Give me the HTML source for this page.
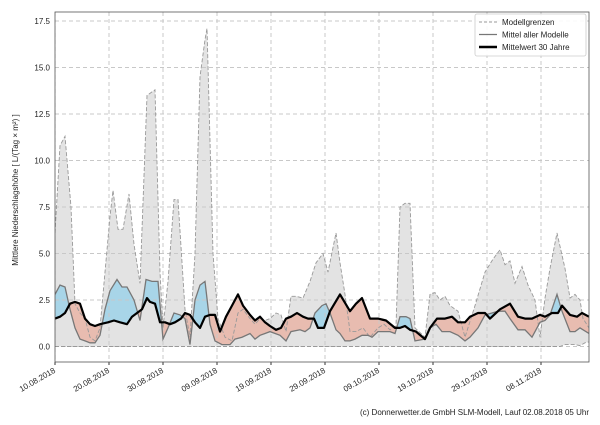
<!DOCTYPE html>
<html><head><meta charset="utf-8"><style>
body{margin:0;background:#fff}
svg{font-family:"Liberation Sans","DejaVu Sans",sans-serif}
</style></head><body>
<svg id="s" width="600" height="420" xmlns="http://www.w3.org/2000/svg"></svg>
<script>
const up=[[55,6.1],[60,10.8],[65,11.3],[71,7.5],[75,2.3],[80,1.8],[85,1.5],[90,0.5],[95,0.3],[100,1.0],[105,4],[110,7],[113,8.4],[118,6.3],[123,6.3],[129,8.2],[134,5.5],[140,3.4],[147,13.5],[155,13.8],[160,4],[163,1.0],[168,3.5],[174,7.9],[178,7.9],[185,2],[190,0.5],[195,5],[200,14.5],[205,16.5],[207,17.1],[213,5],[218,1.5],[225,0.5],[232,0.3],[238,1.8],[243,2.0],[250,1.5],[255,1.2],[260,1.5],[265,1.4],[270,1.5],[276,1.8],[281,1.7],[286,0.8],[291,2.7],[296,2.7],[303,2.6],[310,3.5],[316,4.5],[323,5.0],[328,4.0],[336,6.1],[340,4.5],[345,2.8],[350,0.8],[356,0.8],[363,1.0],[370,0.5],[378,1.0],[384,1.2],[390,0.9],[396,1.1],[400,7.5],[405,7.7],[410,7.7],[415,1.0],[425,0.5],[430,2.8],[435,2.9],[440,2.5],[445,2.7],[450,2.2],[458,1.9],[465,0.5],[475,2.2],[485,4.0],[493,4.7],[500,5.2],[505,4.4],[510,4.6],[515,3.4],[522,4.3],[528,3.3],[535,2.5],[540,0.5],[545,2.6],[550,4.2],[557,6.1],[565,4.2],[570,2.6],[575,2.8],[580,2.5],[583,1.5],[589,1.0]];
const md=[[55,2.8],[60,3.3],[65,3.2],[70,2.0],[75,1.0],[80,0.4],[85,0.3],[90,0.2],[95,0.2],[100,0.6],[105,2.0],[110,3.0],[117,3.6],[122,3.2],[127,3.2],[134,2.5],[140,1.4],[146,3.6],[152,3.5],[158,3.5],[163,0.4],[168,1.0],[174,1.8],[180,1.7],[185,1.5],[190,0.1],[195,2.5],[200,3.3],[205,3.5],[210,1.2],[215,0.3],[222,0.1],[230,0.1],[235,0.4],[242,0.5],[250,0.7],[255,0.4],[260,0.6],[265,0.7],[270,0.8],[280,0.6],[286,0.3],[291,0.8],[300,0.9],[305,0.8],[310,1.0],[315,1.8],[322,2.2],[326,2.3],[330,1.8],[336,0.9],[340,0.7],[345,0.3],[350,0.3],[355,0.4],[362,0.6],[368,0.6],[372,0.5],[378,0.8],[383,0.8],[390,0.8],[395,0.7],[400,1.6],[406,1.6],[410,1.5],[415,0.3],[425,0.4],[430,1.0],[436,1.2],[442,0.8],[450,0.8],[458,0.6],[465,0.3],[470,0.5],[478,1.0],[485,1.7],[492,1.8],[498,1.9],[505,1.9],[510,1.5],[518,0.9],[525,0.9],[532,0.5],[540,1.3],[545,1.4],[550,1.7],[557,2.8],[562,1.9],[570,0.8],[575,0.8],[580,1.0],[589,0.7]];
const cl=[[55,1.5],[60,1.6],[65,1.8],[70,2.3],[75,2.4],[80,2.3],[85,1.5],[90,1.2],[95,1.1],[100,1.2],[108,1.3],[114,1.4],[120,1.3],[127,1.2],[132,1.6],[137,1.8],[142,2.0],[147,2.6],[150,2.4],[155,2.3],[160,1.3],[165,1.3],[170,1.2],[175,1.3],[181,1.5],[185,1.8],[190,1.7],[195,1.3],[200,1.0],[205,1.6],[210,1.7],[215,1.7],[220,0.8],[226,1.6],[232,2.2],[238,2.8],[243,2.2],[250,1.7],[255,1.4],[260,1.6],[265,1.3],[270,1.1],[276,0.9],[281,1.0],[286,1.5],[291,1.6],[297,1.8],[303,1.6],[308,1.5],[314,1.5],[318,1.0],[324,1.0],[330,1.9],[340,2.8],[350,1.9],[356,2.3],[362,2.6],[370,1.5],[378,1.5],[386,1.4],[395,1.0],[400,1.0],[405,1.1],[410,0.9],[416,0.8],[425,0.4],[430,1.0],[437,1.5],[445,1.5],[452,1.6],[458,1.3],[465,1.3],[470,1.6],[478,1.8],[485,1.8],[490,1.5],[500,2.0],[510,2.3],[518,1.6],[525,1.5],[532,1.5],[540,1.7],[545,1.6],[552,1.8],[558,1.8],[562,2.2],[570,1.7],[577,1.6],[582,1.8],[589,1.6]];
const lo=[[55,0],[560,0],[565,0.1],[575,0.1],[580,0.05],[585,0.2],[589,0.25]];
const Y=v=>346.5-v*18.6;
const pts=a=>a.map(p=>p[0]+","+Y(p[1]).toFixed(1)).join(" ");
const rev=a=>a.slice().reverse();
let h='';
h+='<defs><clipPath id="pa"><rect x="55" y="12" width="534" height="350"/></clipPath>';
h+='<clipPath id="aboveC"><polygon points="55,0 '+pts(cl)+' 589,0"/></clipPath>';
h+='<clipPath id="aboveM"><polygon points="55,0 '+pts(md)+' 589,0"/></clipPath></defs>';
let g='';
for(let i=0;i<=7;i++){const y=Y(i*2.5);g+=`<line x1="55" x2="589" y1="${y}" y2="${y}" stroke="#c8c8c8" stroke-dasharray="4,3"/>`;
 h+=`<text x="50" y="${y+3}" font-size="8" text-anchor="end" fill="#222">${(i*2.5).toFixed(1)}</text>`;}
const dates=["10.08.2018","20.08.2018","30.08.2018","09.09.2018","19.09.2018","29.09.2018","09.10.2018","19.10.2018","29.10.2018","08.11.2018"];
dates.forEach((d,i)=>{const x=55+i*54;g+=`<line x1="${x}" x2="${x}" y1="12" y2="362" stroke="#c8c8c8" stroke-dasharray="4,3"/>`;
 h+=`<line x1="${x}" x2="${x}" y1="362" y2="365" stroke="#333"/><text font-size="8" fill="#222" text-anchor="end" transform="translate(${x+1},372) rotate(-30)">${d}</text>`;});
h+='<g clip-path="url(#pa)">';
h+='<polygon points="'+pts(up)+' '+pts(rev(lo))+'" fill="#e3e3e3"/>';
h+='<polygon points="'+pts(md)+' 589,346.5 55,346.5" fill="#a8d5e8" clip-path="url(#aboveC)"/>';
h+='<polygon points="'+pts(cl)+' 589,346.5 55,346.5" fill="#e8bcb0" clip-path="url(#aboveM)"/>';
h+=g;
h+='<polyline points="'+pts(up)+'" fill="none" stroke="#999" stroke-width="0.9" stroke-dasharray="4,2"/>';
h+='<polyline points="'+pts(lo)+'" fill="none" stroke="#999" stroke-width="0.9" stroke-dasharray="4,2"/>';
h+='<polyline points="'+pts(md)+'" fill="none" stroke="#777" stroke-width="1.3"/>';
h+='<polyline points="'+pts(cl)+'" fill="none" stroke="#000" stroke-width="2.2" stroke-linejoin="round"/>';
h+='</g><rect x="55" y="12" width="534" height="350" fill="none" stroke="#555" stroke-width="0.8"/>';
h+='<text font-size="8" fill="#222" text-anchor="middle" transform="translate(18,190) rotate(-90)">Mittlere Niederschlagshöhe [ L/(Tag × m²) ]</text>';
h+='<rect x="475" y="14" width="111" height="42" fill="#fff" fill-opacity="0.9" stroke="#ccc" stroke-width="0.8" rx="2"/>';
h+='<line x1="479" x2="497" y1="22" y2="22" stroke="#999" stroke-dasharray="3,2"/><text x="502" y="25" font-size="8" fill="#222">Modellgrenzen</text>';
h+='<line x1="479" x2="497" y1="34.5" y2="34.5" stroke="#777" stroke-width="1.3"/><text x="502" y="37.5" font-size="8" fill="#222">Mittel aller Modelle</text>';
h+='<line x1="479" x2="497" y1="47" y2="47" stroke="#000" stroke-width="2.5"/><text x="502" y="50" font-size="8" fill="#222">Mittelwert 30 Jahre</text>';
h+='<text x="589" y="415" font-size="8" fill="#222" text-anchor="end">(c) Donnerwetter.de GmbH SLM-Modell, Lauf 02.08.2018 05 Uhr</text>';
document.getElementById('s').innerHTML=h;
</script>
</body></html>
